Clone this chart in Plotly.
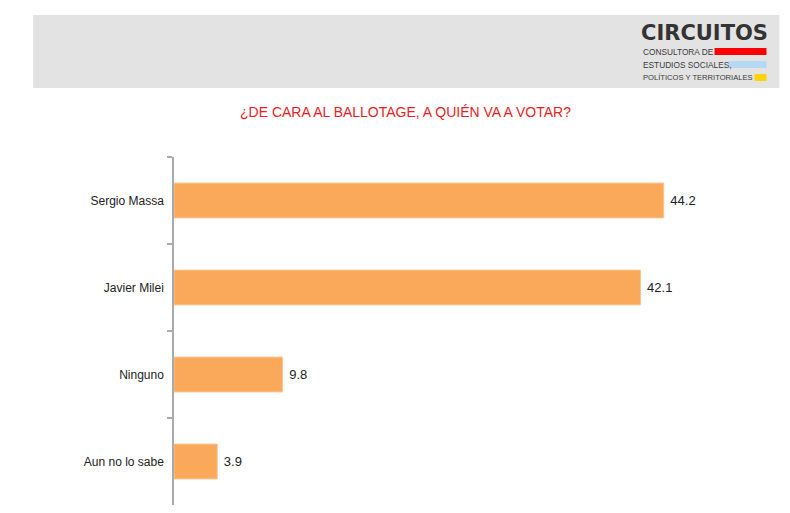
import plotly.graph_objects as go

categories = ["Sergio Massa", "Javier Milei", "Ninguno", "Aun no lo sabe"]
values = [44.2, 42.1, 9.8, 3.9]

OFF = 8  # page body margin
W, H = 790 - OFF, 513 - OFF
L, T, B = 174 - OFF, 157 - OFF, 8
XMAX = 50
PLOT_W = 554.5
R = W - L - PLOT_W
PLOT_H = H - T - B


def px(x):
    return (x - OFF - L) / PLOT_W


def py(y):
    return (H - B - (y - OFF)) / PLOT_H


fig = go.Figure(go.Bar(
    x=values, y=categories, orientation="h",
    marker=dict(color="#FAA85A", line=dict(color="#FBC48F", width=1)),
    width=0.4,
    texttemplate=" %{x}", textposition="outside", cliponaxis=False,
    textfont=dict(family="Liberation Sans, Arial", size=13, color="#222222"),
    hoverinfo="skip",
))

shapes = [
    dict(type="rect", xref="paper", yref="paper", x0=px(33), x1=px(780), y0=py(88), y1=py(15),
         fillcolor="#E3E3E3", line=dict(width=0), layer="below"),
    dict(type="rect", xref="paper", yref="paper", x0=px(715), x1=px(767), y0=py(55), y1=py(48),
         fillcolor="#FF0000", line=dict(width=0)),
    dict(type="rect", xref="paper", yref="paper", x0=px(729), x1=px(767), y0=py(68), y1=py(61),
         fillcolor="#B5D9F5", line=dict(width=0)),
    dict(type="rect", xref="paper", yref="paper", x0=px(755), x1=px(767), y0=py(81), y1=py(74),
         fillcolor="#FFD200", line=dict(width=0)),
]

sub_font = dict(family="Liberation Sans, Arial", size=8.3, color="#3A3A3A")
annotations = [
    dict(text="¿DE CARA AL BALLOTAGE, A QUIÉN VA A VOTAR?", xref="paper", yref="paper",
         x=px(406), y=py(112), showarrow=False, xanchor="center", yanchor="middle",
         font=dict(family="Liberation Sans, Arial", size=14, color="#EE1C25")),
    dict(text="<b>CIRCUITOS</b>", xref="paper", yref="paper", x=px(639), y=py(33),
         showarrow=False, xanchor="left", yanchor="middle",
         font=dict(family="DejaVu Sans, Arial", size=21, color="#333333")),
    dict(text="CONSULTORA DE", xref="paper", yref="paper", x=px(641), y=py(51.5),
         showarrow=False, xanchor="left", yanchor="middle", font=sub_font),
    dict(text="ESTUDIOS SOCIALES,", xref="paper", yref="paper", x=px(641), y=py(64.5),
         showarrow=False, xanchor="left", yanchor="middle", font=sub_font),
    dict(text="POLÍTICOS Y TERRITORIALES", xref="paper", yref="paper", x=px(641), y=py(77.5),
         showarrow=False, xanchor="left", yanchor="middle",
         font=dict(family="Liberation Sans, Arial", size=7.6, color="#3A3A3A")),
]

fig.update_layout(
    width=W, height=H,
    margin=dict(l=L, r=R, t=T, b=B),
    paper_bgcolor="white", plot_bgcolor="white",
    showlegend=False,
    shapes=shapes, annotations=annotations,
    xaxis=dict(range=[0, XMAX], visible=False, showgrid=False, zeroline=False),
    yaxis=dict(autorange="reversed", showline=True, linecolor="#AAAAAA", linewidth=1.5,
               ticks="outside", tickson="boundaries", ticklen=5, tickcolor="#AAAAAA",
               tickwidth=1.5, showgrid=False,
               tickfont=dict(family="Liberation Sans, Arial", size=12, color="#222222"),
               ticklabelstandoff=6),
)

fig.write_html("out.html", config={"displayModeBar": False})
